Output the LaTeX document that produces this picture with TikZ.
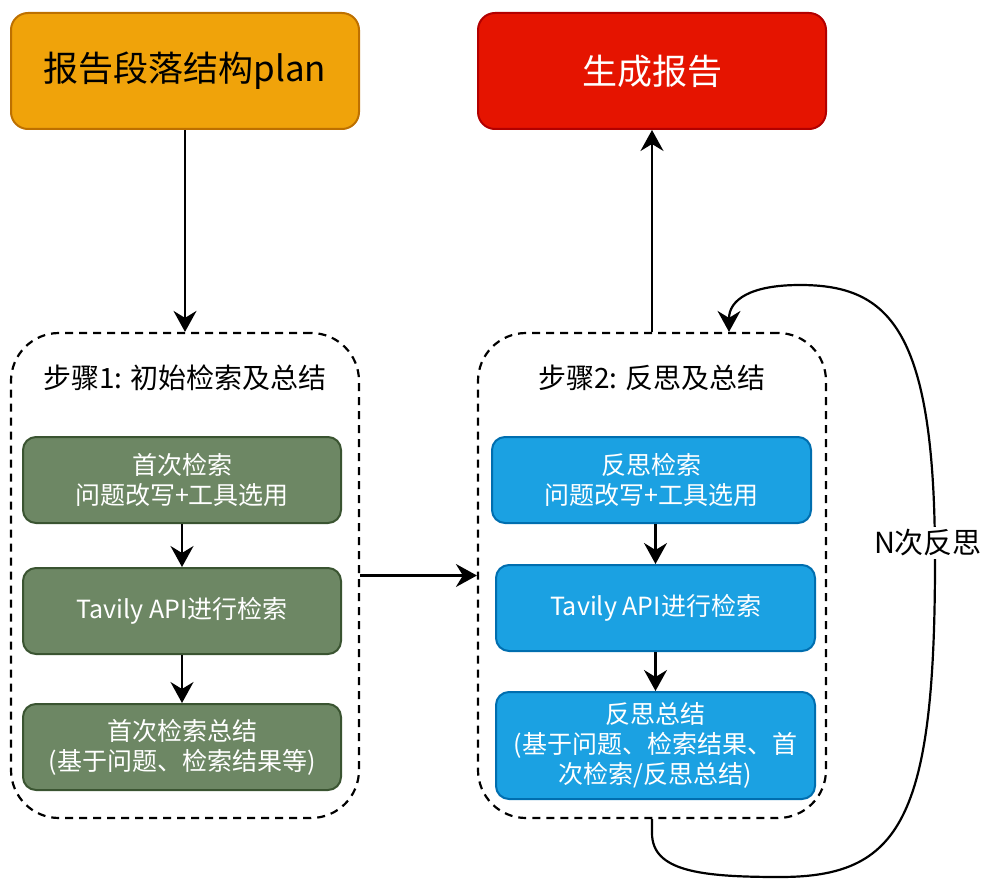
\documentclass[tikz,border=0pt]{standalone}
\usepackage{fontspec}
\setmainfont{Noto Sans CJK SC}
\usetikzlibrary{arrows.meta}
\definecolor{orangefill}{HTML}{F0A30A}
\definecolor{orangeline}{HTML}{BD7000}
\definecolor{redfill}{HTML}{E51400}
\definecolor{redline}{HTML}{B20000}
\definecolor{greenfill}{HTML}{6D8764}
\definecolor{greenline}{HTML}{3A5431}
\definecolor{bluefill}{HTML}{1BA1E2}
\definecolor{blueline}{HTML}{006EAF}
\tikzset{
  x=1pt,y=-1pt,
  topbox/.style={draw, line width=2pt, rounded corners=17pt, minimum width=348pt, minimum height=116pt, inner sep=0pt, font=\fontsize{35}{40}\selectfont, align=center},
  container/.style={draw, line width=2.2pt, dash pattern=on 8pt off 6pt, rounded corners=48pt, minimum width=348pt, minimum height=485pt, inner sep=0pt},
  title/.style={font=\fontsize{28}{32}\selectfont, inner sep=0pt},
  gbox/.style={draw=greenline, fill=greenfill, text=white, line width=2pt, rounded corners=13pt, minimum width=318pt, minimum height=86pt, inner sep=0pt, align=center, font=\fontsize{25}{30}\selectfont},
  bbox/.style={draw=blueline, fill=bluefill, text=white, line width=2pt, rounded corners=13pt, minimum width=319pt, minimum height=86pt, inner sep=0pt, align=center, font=\fontsize{25}{30}\selectfont},
  conn/.style={line width=2.2pt, -{Stealth[length=21pt,width=23pt,inset=7pt]}},
}
\begin{document}
\begin{tikzpicture}
\useasboundingbox (0,0) rectangle (990,880);
\node[topbox, fill=orangefill, draw=orangeline] (plan) at (185,71) {报告段落结构plan};
\node[topbox, fill=redfill, draw=redline, text=white] (gen) at (652,71) {生成报告};
\node[container] (c1) at (185,575.5) {};
\node[container] (c2) at (652,575.5) {};
\node[title] (t1) at (185,378) {步骤1: 初始检索及总结};
\node[title] (t2) at (652,378) {步骤2: 反思及总结};
\node[gbox] (g1) at (182,480) {首次检索\\问题改写+工具选用};
\node[gbox] (g2) at (182,611) {Tavily API进行检索};
\node[gbox] (g3) at (182,747) {首次检索总结\\(基于问题、检索结果等)};
\node[bbox] (b1) at (651.5,480) {反思检索\\问题改写+工具选用};
\node[bbox] (b2) at (655.5,608) {Tavily API进行检索};
\node[bbox, minimum height=107pt] (b3) at (655.5,745.5) {反思总结\\(基于问题、检索结果、首\\次检索/反思总结)};
\draw[conn] (plan.south) -- (c1.north);
\draw[conn] (g1.south) -- (g2.north);
\draw[conn] (g2.south) -- (g3.north);
\draw[conn] (b1.south -| b2.north) -- (b2.north);
\draw[conn] (b2.south) -- (b3.north);
\draw[conn] (c1.east) -- (c2.west);
\draw[conn] (c2.north) -- (gen.south);
\coordinate (loopend) at ([xshift=77pt]c2.north);
\draw[conn] (c2.south) -- ++(0,14) .. controls ++(0,38) and (700,877) .. (780,877) .. controls (900,877) and (935,820) .. (935,560) .. controls (935,330) and (890,285) .. (800,285) .. controls (750,285) and (729,300) .. (loopend);
\node[title, fill=white, inner sep=3pt, font=\fontsize{29}{32}\selectfont] (nl) at (928,543) {N次反思};
\end{tikzpicture}
\end{document}
